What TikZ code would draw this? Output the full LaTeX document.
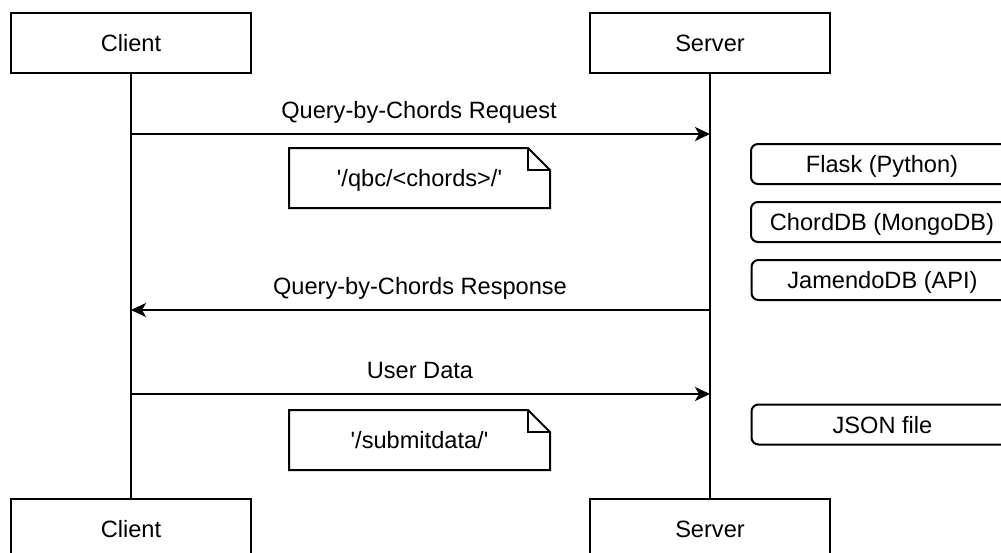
\documentclass[tikz,border=0pt]{standalone}
\usepackage{fontspec}
\setmainfont{Liberation Sans}
\usetikzlibrary{arrows.meta}
\begin{document}
\begin{tikzpicture}[x=1pt,y=-1pt,line width=2pt,
  every node/.style={font=\fontsize{23.6}{28}\selectfont,text=black},
  actor/.style={draw,rectangle,minimum width=240pt,minimum height=60pt,inner sep=0pt,text height=17pt,text depth=0pt},
  svc/.style={draw,rectangle,rounded corners=7pt,minimum width=262pt,minimum height=40pt,inner sep=0pt,text height=17pt,text depth=0pt},
  notebox/.style={rectangle,minimum width=261pt,minimum height=60pt,inner sep=0pt,outer sep=0pt,text height=17pt,text depth=0pt},
  lbl/.style={anchor=base,inner sep=0pt},
  msg/.style={-{Stealth[length=15pt,width=14pt,inset=4pt]}},
  life/.style={draw}]
\useasboundingbox (0,0) rectangle (1001,552);
\clip (0,0) rectangle (1001,552);
\fill[white] (0,0) rectangle (1001,552);
% actors
\node[actor] (ctop) at (131,43) {Client};
\node[actor] (stop) at (710,43) {Server};
\node[actor] (cbot) at (131,529) {Client};
\node[actor] (sbot) at (710,529) {Server};
% lifelines
\draw[life] (ctop.south) -- (cbot.north);
\draw[life] (stop.south) -- (sbot.north);
% message anchors
\coordinate (c1) at (131,134);
\coordinate (s1) at (710,134);
\coordinate (c2) at (131,310);
\coordinate (s2) at (710,310);
\coordinate (c3) at (131,394);
\coordinate (s3) at (710,394);
% messages
\draw[msg] (c1) -- (s1);
\node[lbl] (l1) at (419,118) {Query-by-Chords Request};
\draw[msg] (s2) -- (c2);
\node[lbl] (l2) at (420,294) {Query-by-Chords Response};
\draw[msg] (c3) -- (s3);
\node[lbl] (l3) at (420,378) {User Data};
% notes
\node[notebox] (n1) at (419.5,178) {\textquotesingle/qbc/<chords>/\textquotesingle};
\draw[line join=miter] (n1.north west) -- ([xshift=-22pt]n1.north east) -- ([yshift=-22pt]n1.north east) -- (n1.south east) -- (n1.south west) -- cycle;
\draw[line join=miter] ([xshift=-22pt]n1.north east) -- ([xshift=-22pt,yshift=-22pt]n1.north east) -- ([yshift=-22pt]n1.north east);
\node[notebox] (n2) at (419.5,440) {\textquotesingle/submitdata/\textquotesingle};
\draw[line join=miter] (n2.north west) -- ([xshift=-22pt]n2.north east) -- ([yshift=-22pt]n2.north east) -- (n2.south east) -- (n2.south west) -- cycle;
\draw[line join=miter] ([xshift=-22pt]n2.north east) -- ([xshift=-22pt,yshift=-22pt]n2.north east) -- ([yshift=-22pt]n2.north east);
% server components
\node[svc] (flask) at (882,164) {Flask (Python)};
\node[svc] (chorddb) at (882,222) {ChordDB (MongoDB)};
\node[svc] (jamendo) at (882.5,280) {JamendoDB (API)};
\node[svc] (json) at (882.5,424.5) {JSON file};
\end{tikzpicture}
\end{document}
